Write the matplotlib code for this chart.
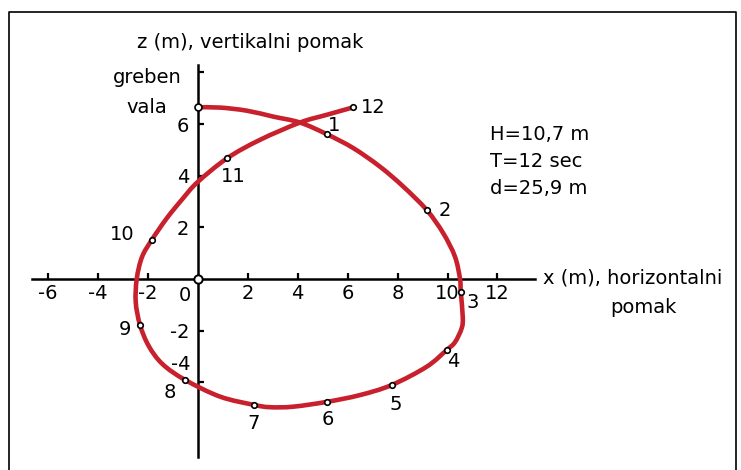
import matplotlib.pyplot as plt
from matplotlib.lines import Line2D
from matplotlib.path import Path
from matplotlib.patches import PathPatch

plt.rcParams['font.family'] = 'DejaVu Sans'
plt.rcParams['font.size'] = 14

# orbit of a water particle, x (m) horizontal and z (m) vertical displacement
curve_x = [0.0, 0.9, 1.97, 3.03, 4.1, 5.17, 6.23, 7.3, 8.23, 9.17, 9.83, 10.3, 10.5,
           10.53, 10.61, 10.57, 10.3, 9.97, 9.17, 7.77, 6.5, 5.19, 3.83, 2.9, 2.26, 0.9,
           -0.5, -1.4, -1.95, -2.3, -2.47, -2.43, -2.22, -1.83, -1.23, -0.6, 0.0,
           1.19, 2.5, 4.1, 5.17, 6.23]
curve_z = [6.65, 6.64, 6.52, 6.29, 6.06, 5.61, 5.07, 4.35, 3.58, 2.67, 1.77, 0.86, 0.0,
           -0.49, -1.46, -1.9, -2.45, -2.75, -3.4, -4.11, -4.5, -4.76, -4.95, -4.97, -4.88,
           -4.56, -3.91, -3.3, -2.6, -1.78, -0.9, 0.0, 0.85, 1.51, 2.35, 3.1, 3.75,
           4.68, 5.39, 6.06, 6.36, 6.65]

# positions at each hour of the wave period
point_labels = ['1', '2', '3', '4', '5', '6', '7', '8', '9', '10', '11', '12']
point_x = [5.17, 9.17, 10.53, 9.97, 7.77, 5.19, 2.26, -0.5, -2.3, -1.83, 1.19, 6.23]
point_z = [5.61, 2.67, -0.49, -2.75, -4.11, -4.76, -4.88, -3.91, -1.78, 1.51, 4.68, 6.65]

crest_x, crest_z = 0.0, 6.65

x_ticks = [-6, -4, -2, 2, 4, 6, 8, 10, 12]
z_ticks = [-4, -2, 2, 4, 6, 8]
z_tick_labels = ['', '-2', '2', '4', '6', '']

wave_params = ['H=10,7 m', 'T=12 sec', 'd=25,9 m']

W, H = 741, 470
fig = plt.figure(figsize=(W / 100, H / 100), dpi=100)
fig.patch.set_facecolor('white')

ax = fig.add_axes([32 / W, 13 / H, 503 / W, 392 / H])
ax.set_xlim(-6.62, 13.5)
ax.set_ylim(-6.9, 8.29)

for side in ['top', 'right']:
    ax.spines[side].set_visible(False)
for side in ['left', 'bottom']:
    ax.spines[side].set_position(('data', 0))
    ax.spines[side].set_linewidth(1.8)
    ax.spines[side].set_zorder(1)

ax.set_xticks(x_ticks)
ax.set_xticklabels([str(t) for t in x_ticks])
ax.set_yticks(z_ticks)
ax.set_yticklabels(z_tick_labels)
ax.tick_params(direction='in', length=4, width=1.6, pad=4)
ax.tick_params(axis='y', pad=6)
ax.text(-0.5, -0.66, '0', ha='center', va='center')
# the -4 label sits a bit above its tick, clear of point 8
ax.text(-0.3, -3.33, '-4', ha='right', va='center')

# smooth path through the orbit points (cubic segments)
pts = list(zip(curve_x, curve_z))
verts = [pts[0]]
codes = [Path.MOVETO]
n = len(pts)
for i in range(n - 1):
    p0 = pts[max(i - 1, 0)]
    p1 = pts[i]
    p2 = pts[i + 1]
    p3 = pts[min(i + 2, n - 1)]
    c1 = (p1[0] + (p2[0] - p0[0]) / 6, p1[1] + (p2[1] - p0[1]) / 6)
    c2 = (p2[0] - (p3[0] - p1[0]) / 6, p2[1] - (p3[1] - p1[1]) / 6)
    verts += [c1, c2, p2]
    codes += [Path.CURVE4] * 3

red = '#c8202d'
orbit = PathPatch(Path(verts, codes), facecolor='none', edgecolor=red, lw=3.3,
                  capstyle='round', joinstyle='round', zorder=2)
ax.add_patch(orbit)

ax.plot(point_x, point_z, 'o', ms=4, mfc='white', mec='black', mew=1.2, zorder=3)
ax.plot([crest_x], [crest_z], 'o', ms=5, mfc='white', mec='black', mew=1.2, zorder=3)
ax.plot([0], [0], 'o', ms=6, mfc='white', mec='black', mew=1.4, zorder=3)

# label offsets in pixels from each point
label_dx = [7, 18, 12, 7, 4, 1, 0, -15, -15, -30, 6, 20]
label_dy = [9, 0, -11, -12, -20, -18, -19, -13, -5, 5, -18, 0]
for lab, px, pz, dx, dy in zip(point_labels, point_x, point_z, label_dx, label_dy):
    ax.annotate(lab, (px, pz), xytext=(dx, dy), textcoords='offset pixels',
                ha='center', va='center')


def fx(px):
    return px / W


def fy(py):
    return 1 - py / H


fig.text(fx(250), fy(48), 'z (m), vertikalni pomak', ha='center', va='baseline')
fig.text(fx(147), fy(83), 'greben', ha='center', va='baseline')
fig.text(fx(147), fy(113), 'vala', ha='center', va='baseline')
for i, s in enumerate(wave_params):
    fig.text(fx(490), fy(140 + 27 * i), s, ha='left', va='baseline')
fig.text(fx(543), fy(283), 'x (m), horizontalni', ha='left', va='baseline')
fig.text(fx(643), fy(313), 'pomak', ha='center', va='baseline')

# outer frame
fig.add_artist(Line2D([fx(9), fx(9), fx(736), fx(736)], [0, fy(11.5), fy(11.5), 0],
                      transform=fig.transFigure, color='black', lw=1.2))

fig.savefig('out.png', dpi=100)
